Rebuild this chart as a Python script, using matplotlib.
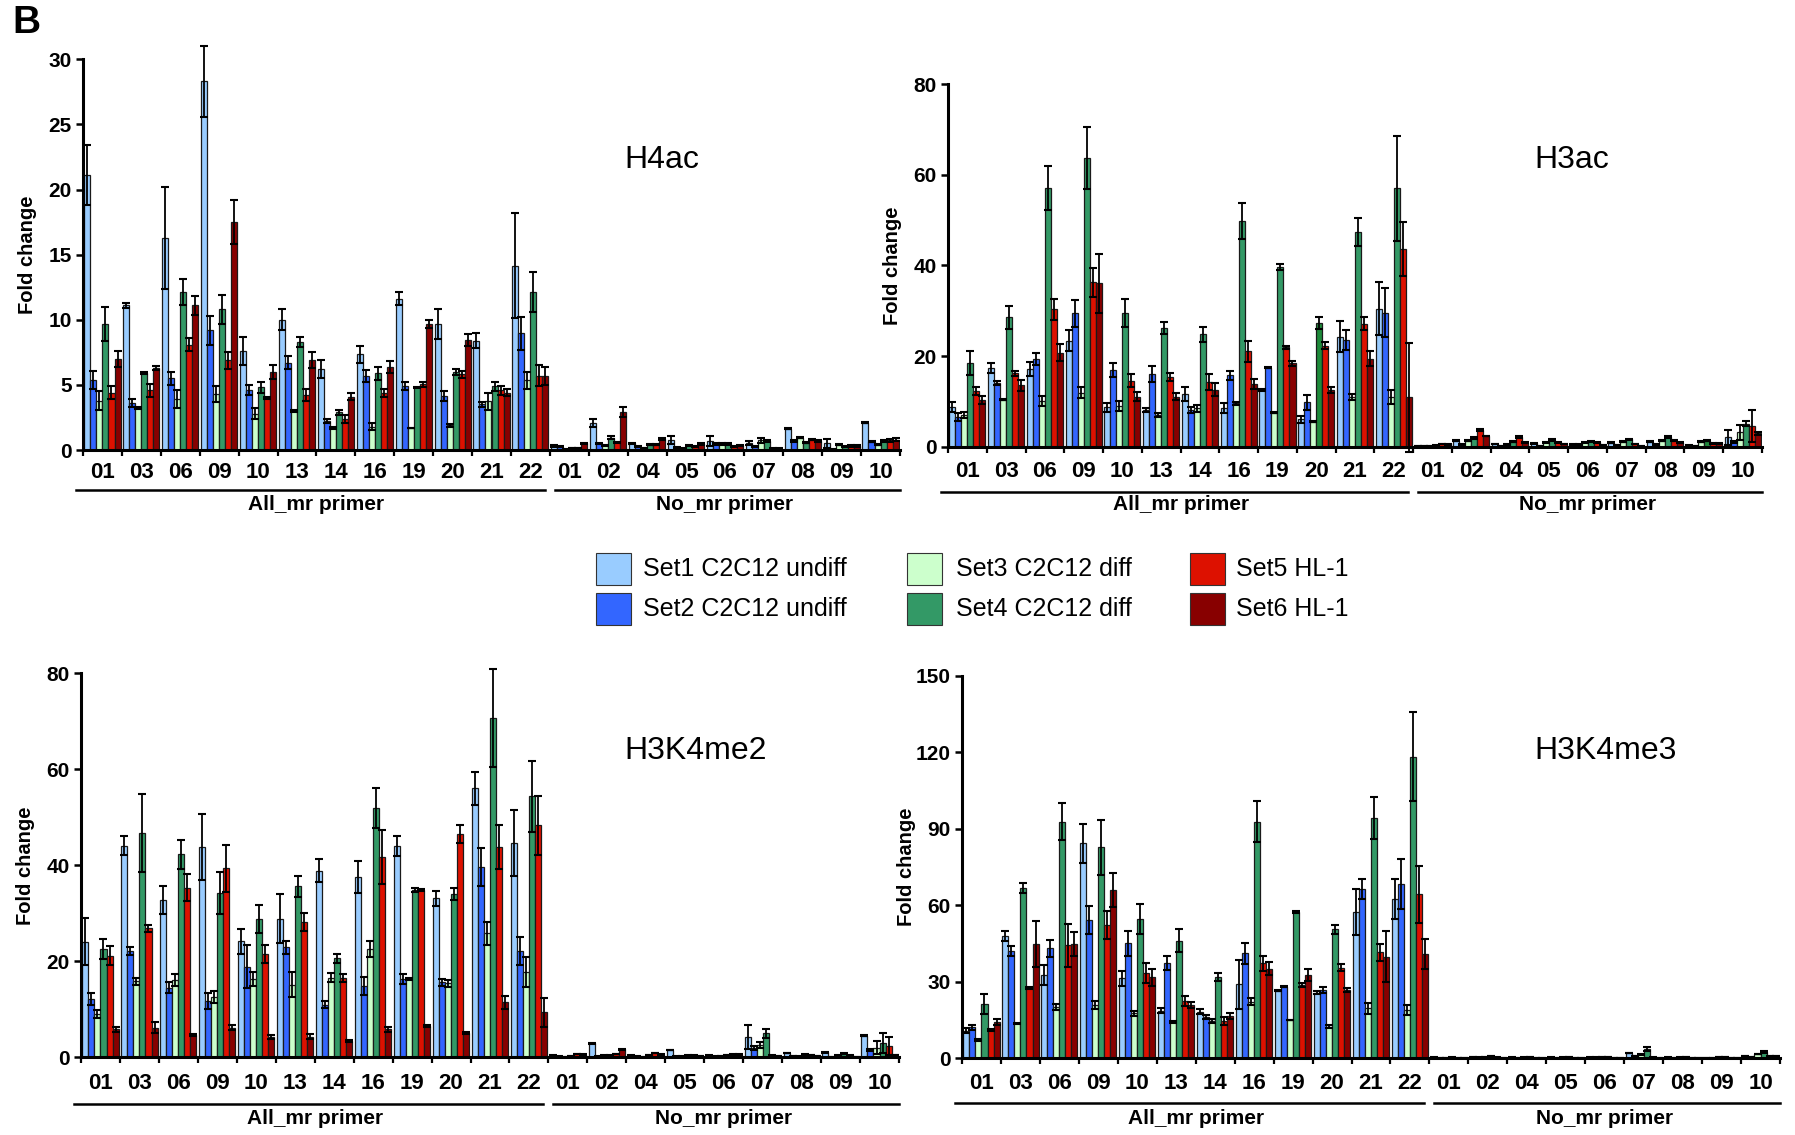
import matplotlib
matplotlib.use('Agg')
import matplotlib.pyplot as plt
from matplotlib.patches import Rectangle
from matplotlib.transforms import ScaledTranslation
import numpy as np

plt.rcParams['font.family'] = ['Liberation Sans', 'DejaVu Sans']

# ---------------- data ----------------
GROUPS = ['01', '03', '06', '09', '10', '13', '14', '16', '19', '20', '21', '22',
          '01', '02', '04', '05', '06', '07', '08', '09', '10']
N_ALL = 12
SERIES = ['Set1 C2C12 undiff', 'Set2 C2C12 undiff', 'Set3 C2C12 diff',
          'Set4 C2C12 diff', 'Set5 HL-1', 'Set6 HL-1']
COLORS = ['#99CCFF', '#3366FF', '#CCFFCC', '#339966', '#DD1100', '#880000']

SMALL = [0.05] * 9

# H4ac
H4AC_S1 = [21.1, 11.1, 16.3, 28.3, 7.6, 10.0, 6.2, 7.35, 11.6, 9.7, 8.4, 14.15, 0.3, 2.05, 0.5, 0.75, 0.7, 0.55, 1.65, 0.5, 2.1]
H4AC_E1 = [2.3, 0.2, 3.9, 2.7, 1.1, 0.8, 0.7, 0.65, 0.5, 1.15, 0.6, 4.05, 0.05, 0.3, 0.05, 0.3, 0.4, 0.15, 0.05, 0.35, 0.05]
H4AC_S2 = [5.4, 3.6, 5.5, 9.2, 4.6, 6.7, 2.2, 5.7, 4.9, 4.15, 3.5, 8.95, 0.25, 0.5, 0.25, 0.2, 0.45, 0.25, 0.7, 0.05, 0.65]
H4AC_E2 = [0.7, 0.3, 0.5, 1.1, 0.4, 0.5, 0.15, 0.45, 0.3, 0.35, 0.2, 1.25, 0.03, 0.05, 0.03, 0.03, 0.05, 0.03, 0.05, 0.03, 0.05]
H4AC_S3 = [3.8, 3.25, 3.9, 4.3, 2.8, 3.0, 1.7, 1.8, 1.7, 1.9, 3.75, 5.35, 0.05, 0.35, 0.15, 0.1, 0.45, 0.75, 0.95, 0.4, 0.4]
H4AC_E3 = [0.7, 0.08, 0.7, 0.6, 0.4, 0.1, 0.05, 0.3, 0.02, 0.1, 0.65, 0.65, 0.02, 0.05, 0.02, 0.02, 0.05, 0.2, 0.05, 0.05, 0.05]
H4AC_S4 = [9.7, 5.9, 12.1, 10.8, 4.8, 8.3, 2.9, 5.9, 4.8, 6.0, 4.9, 12.15, 0.15, 0.95, 0.4, 0.35, 0.45, 0.7, 0.55, 0.25, 0.7]
H4AC_E4 = [1.3, 0.1, 1.0, 1.1, 0.4, 0.4, 0.2, 0.5, 0.05, 0.25, 0.35, 1.55, 0.03, 0.1, 0.05, 0.05, 0.05, 0.1, 0.05, 0.05, 0.1]
H4AC_S5 = [4.4, 4.6, 8.1, 6.9, 4.0, 4.2, 2.4, 4.35, 5.05, 5.8, 4.6, 5.7, 0.15, 0.6, 0.4, 0.25, 0.25, 0.1, 0.8, 0.3, 0.75]
H4AC_E5 = [0.5, 0.5, 0.5, 0.65, 0.1, 0.45, 0.3, 0.3, 0.2, 0.3, 0.35, 0.8, 0.03, 0.05, 0.05, 0.03, 0.05, 0.03, 0.05, 0.05, 0.1]
H4AC_S6 = [7.0, 6.3, 11.1, 17.5, 6.0, 6.9, 4.1, 6.4, 9.7, 8.45, 4.4, 5.7, 0.5, 2.9, 0.85, 0.45, 0.35, 0.1, 0.7, 0.3, 0.8]
H4AC_E6 = [0.6, 0.15, 0.75, 1.7, 0.55, 0.6, 0.25, 0.45, 0.3, 0.45, 0.25, 0.7, 0.05, 0.4, 0.05, 0.05, 0.05, 0.03, 0.05, 0.05, 0.1]

# H3ac
H3AC_S1 = [8.8, 17.3, 17.2, 23.4, 8.7, 8.1, 11.6, 8.5, 12.5, 6.0, 24.3, 30.4, 0.1, 1.3, 0.6, 0.8, 0.45, 0.9, 1.1, 0.3, 2.05]
H3AC_E1 = [1.1, 1.1, 1.55, 2.3, 1.0, 0.5, 1.5, 1.1, 0.2, 0.8, 3.4, 5.85, 0.05, 0.1, 0.1, 0.1, 0.1, 0.1, 0.1, 0.1, 1.65]
H3AC_S2 = [6.6, 14.0, 19.3, 29.4, 16.9, 16.0, 8.1, 15.8, 17.4, 9.8, 23.5, 29.6, 0.1, 0.45, 0.15, 0.15, 0.45, 0.35, 0.5, 0.1, 1.1]
H3AC_E2 = [0.9, 0.5, 1.3, 2.9, 1.6, 1.8, 0.7, 1.0, 0.1, 1.6, 2.2, 5.5, 0.05, 0.1, 0.05, 0.05, 0.1, 0.05, 0.1, 0.05, 0.2]
H3AC_S3 = [7.0, 10.4, 10.1, 11.9, 9.0, 7.0, 8.5, 9.6, 7.5, 5.5, 11.0, 11.0, 0.2, 1.3, 0.5, 0.95, 0.95, 1.05, 1.3, 1.05, 3.15]
H3AC_E3 = [0.7, 0.2, 1.1, 1.2, 1.1, 0.5, 0.8, 0.3, 0.1, 0.1, 0.6, 1.6, 0.05, 0.1, 0.1, 0.1, 0.1, 0.1, 0.1, 0.1, 1.6]
H3AC_S4 = [18.4, 28.5, 57.1, 63.75, 29.4, 26.2, 24.8, 49.8, 39.7, 27.2, 47.4, 57.0, 0.25, 1.9, 1.1, 1.5, 1.2, 1.6, 2.05, 1.3, 5.1]
H3AC_E4 = [2.6, 2.6, 4.8, 6.85, 3.1, 1.4, 1.7, 4.0, 0.7, 1.3, 3.1, 11.6, 0.05, 0.2, 0.1, 0.2, 0.1, 0.2, 0.2, 0.1, 0.6]
H3AC_S5 = [12.35, 16.2, 30.3, 36.3, 14.6, 15.3, 14.3, 21.0, 21.9, 22.3, 27.1, 43.6, 0.6, 3.7, 2.05, 0.95, 0.95, 0.6, 1.3, 0.75, 4.55]
H3AC_E5 = [0.85, 0.5, 2.3, 3.2, 1.4, 0.9, 1.7, 2.4, 0.4, 0.7, 1.4, 6.0, 0.05, 0.2, 0.2, 0.1, 0.1, 0.05, 0.1, 0.05, 3.55]
H3AC_S6 = [10.3, 13.5, 20.7, 36.0, 11.0, 11.0, 12.6, 13.75, 18.4, 12.5, 19.4, 10.9, 0.5, 2.35, 0.9, 0.6, 0.35, 0.2, 0.9, 0.75, 2.95]
H3AC_E6 = [0.9, 1.2, 1.9, 6.4, 1.0, 0.8, 1.5, 1.1, 0.6, 0.7, 1.6, 12.0, 0.05, 0.1, 0.1, 0.05, 0.05, 0.05, 0.1, 0.05, 0.3]
H3AC_DARK_SET4 = [9, 19]   # bars drawn in a darker green in the original

# H3K4me2
ME2_S1 = [24.1, 44.1, 32.8, 43.75, 24.2, 28.9, 38.9, 37.6, 44.0, 33.1, 56.0, 44.6, 0.4, 2.9, 0.4, 1.55, 0.4, 4.2, 0.85, 1.05, 4.5]
ME2_E1 = [4.9, 2.0, 2.9, 6.85, 2.6, 5.1, 2.35, 3.3, 2.0, 1.55, 3.4, 6.9, 0.05, 0.1, 0.05, 0.05, 0.05, 2.55, 0.05, 0.1, 0.1]
ME2_S2 = [12.2, 22.15, 14.5, 11.7, 18.9, 22.9, 11.0, 14.9, 16.25, 15.6, 39.7, 22.15, 0.15, 0.15, 0.15, 0.15, 0.2, 1.9, 0.3, 0.05, 1.55]
ME2_E2 = [1.3, 0.75, 1.1, 1.6, 4.5, 1.3, 0.8, 1.9, 1.05, 0.7, 4.0, 2.95, 0.05, 0.05, 0.05, 0.05, 0.05, 0.4, 0.05, 0.05, 0.2]
ME2_S3 = [9.0, 15.8, 16.1, 12.6, 16.3, 15.1, 16.6, 22.6, 16.3, 15.4, 25.8, 17.7, 0.05, 0.35, 0.05, 0.15, 0.3, 2.55, 0.15, 0.4, 1.95]
ME2_E3 = [0.9, 0.8, 1.3, 1.2, 1.4, 2.6, 0.9, 1.7, 0.15, 0.7, 2.3, 3.1, 0.02, 0.05, 0.02, 0.05, 0.05, 0.65, 0.05, 0.05, 1.35]
ME2_S4 = [22.6, 46.7, 42.3, 34.2, 28.9, 35.6, 20.6, 51.9, 34.9, 34.0, 70.6, 54.4, 0.3, 0.35, 0.5, 0.4, 0.5, 5.0, 0.6, 0.75, 2.9]
ME2_E4 = [2.1, 8.2, 3.0, 4.3, 2.9, 2.2, 0.9, 4.1, 0.4, 1.2, 10.2, 7.4, 0.05, 0.05, 0.05, 0.05, 0.05, 1.0, 0.05, 0.1, 2.1]
ME2_S5 = [21.2, 26.9, 35.3, 39.4, 21.5, 28.2, 16.5, 41.8, 34.9, 46.5, 43.75, 48.3, 0.7, 0.7, 0.85, 0.4, 0.6, 0.4, 0.5, 0.4, 2.3]
ME2_E5 = [1.9, 0.7, 2.8, 4.9, 1.9, 1.9, 0.8, 5.6, 0.15, 1.8, 4.55, 6.2, 0.05, 0.05, 0.05, 0.05, 0.05, 0.05, 0.05, 0.05, 1.9]
ME2_S6 = [5.8, 6.2, 4.65, 6.2, 4.3, 4.3, 3.4, 5.8, 6.5, 5.1, 11.5, 9.4, 0.55, 1.65, 0.55, 0.3, 0.55, 0.3, 0.3, 0.1, 0.5]
ME2_E6 = [0.45, 1.2, 0.2, 0.5, 0.4, 0.5, 0.2, 0.6, 0.15, 0.2, 1.35, 3.0, 0.05, 0.05, 0.05, 0.05, 0.05, 0.05, 0.05, 0.05, 0.05]

# H3K4me3
ME3_S1 = [10.9, 48.0, 32.7, 84.4, 31.4, 18.6, 18.3, 29.0, 26.5, 25.8, 57.3, 62.4, 0.3, 0.4, 0.3, 0.3, 0.3, 2.0, 0.3, 0.2, 0.8]
ME3_E1 = [0.9, 2.0, 3.9, 7.7, 3.0, 1.0, 1.1, 9.6, 0.2, 0.7, 9.0, 7.8] + SMALL
ME3_S2 = [12.2, 42.1, 43.2, 54.3, 45.1, 37.5, 16.3, 41.2, 28.1, 26.8, 66.3, 68.3, 0.2, 0.3, 0.2, 0.2, 0.3, 1.0, 0.2, 0.1, 0.5]
ME3_E2 = [1.0, 2.1, 3.4, 5.5, 4.9, 2.8, 0.7, 4.2, 0.2, 1.3, 3.9, 9.8] + SMALL
ME3_S3 = [7.2, 13.7, 20.0, 20.9, 17.7, 14.4, 14.6, 22.2, 15.0, 12.4, 19.6, 19.0, 0.2, 0.4, 0.3, 0.3, 0.4, 1.5, 0.3, 0.5, 1.7]
ME3_E3 = [0.3, 0.3, 1.2, 1.7, 1.0, 0.4, 0.8, 1.3, 0.1, 0.7, 2.2, 1.9] + SMALL
ME3_S4 = [21.3, 66.7, 92.9, 82.8, 54.5, 46.2, 32.0, 92.9, 57.4, 50.6, 94.4, 118.4, 0.3, 0.8, 0.4, 0.4, 0.5, 3.5, 0.4, 0.6, 2.5]
ME3_E4 = [3.8, 2.0, 7.4, 10.7, 5.9, 4.4, 1.6, 8.2, 0.2, 1.7, 8.3, 17.6, 0.05, 0.05, 0.05, 0.05, 0.05, 0.8, 0.05, 0.05, 0.3]
ME3_S5 = [11.1, 27.5, 44.3, 52.3, 33.6, 22.6, 14.6, 37.3, 28.8, 35.6, 41.6, 64.3, 0.2, 0.3, 0.2, 0.2, 0.2, 0.3, 0.2, 0.2, 1.0]
ME3_E5 = [0.5, 0.3, 8.5, 5.6, 3.9, 2.0, 1.7, 3.0, 0.9, 1.3, 3.3, 11.3] + SMALL
ME3_S6 = [14.1, 44.9, 44.9, 66.0, 31.8, 20.9, 16.6, 35.2, 32.7, 26.8, 39.9, 40.8, 0.2, 0.2, 0.2, 0.2, 0.2, 0.2, 0.2, 0.2, 1.0]
ME3_E6 = [1.2, 9.0, 4.7, 6.7, 3.4, 1.3, 1.1, 2.7, 2.5, 0.9, 10.1, 5.9] + SMALL

PANELS = [
    dict(title='H4ac', vals=[H4AC_S1, H4AC_S2, H4AC_S3, H4AC_S4, H4AC_S5, H4AC_S6],
         errs=[H4AC_E1, H4AC_E2, H4AC_E3, H4AC_E4, H4AC_E5, H4AC_E6],
         ymax=30, ystep=5, box=(83, 59.3, 900, 450), title_xy=(624, 160), dark=[],
         lab_pad=8.5, line_off=40, text_off=55),
    dict(title='H3ac', vals=[H3AC_S1, H3AC_S2, H3AC_S3, H3AC_S4, H3AC_S5, H3AC_S6],
         errs=[H3AC_E1, H3AC_E2, H3AC_E3, H3AC_E4, H3AC_E5, H3AC_E6],
         ymax=80, ystep=20, box=(948, 84, 1762, 446.7), title_xy=(1534, 160), dark=H3AC_DARK_SET4,
         lab_pad=10.5, line_off=45, text_off=58),
    dict(title='H3K4me2', vals=[ME2_S1, ME2_S2, ME2_S3, ME2_S4, ME2_S5, ME2_S6],
         errs=[ME2_E1, ME2_E2, ME2_E3, ME2_E4, ME2_E5, ME2_E6],
         ymax=80, ystep=20, box=(81, 673.3, 899, 1057.3), title_xy=(624, 751), dark=[],
         lab_pad=11, line_off=47, text_off=61),
    dict(title='H3K4me3', vals=[ME3_S1, ME3_S2, ME3_S3, ME3_S4, ME3_S5, ME3_S6],
         errs=[ME3_E1, ME3_E2, ME3_E3, ME3_E4, ME3_E5, ME3_E6],
         ymax=150, ystep=30, box=(962, 676, 1780, 1058.3), title_xy=(1534, 751), dark=[],
         lab_pad=10.5, line_off=45, text_off=60),
]

# ---------------- figure ----------------
W, H = 1795, 1135
fig = plt.figure(figsize=(W / 100, H / 100), dpi=100)

def px_axes(x0, yt, x1, yb):
    return fig.add_axes([x0 / W, 1 - yb / H, (x1 - x0) / W, (yb - yt) / H])

BW = 0.155
x = np.arange(len(GROUPS))

for p in PANELS:
    ax = px_axes(*p['box'])
    for k in range(6):
        cols = [COLORS[k]] * len(x)
        if k == 3:
            for d in p['dark']:
                cols[d] = '#1E8A3A'
        xs = x + (k - 2.5) * BW
        ax.bar(xs, p['vals'][k], width=BW, color=cols, edgecolor='#1a1a1a',
               linewidth=0.9, zorder=2)
        eb = ax.errorbar(xs, p['vals'][k], yerr=p['errs'][k], fmt='none',
                         ecolor='black', elinewidth=1.3, capsize=3.2,
                         capthick=1.5, zorder=3)
        for c in eb.lines[1]:
            c.set_clip_on(False)
        for c in eb.lines[2]:
            c.set_clip_on(False)
    ax.set_xlim(-0.5, len(GROUPS) - 0.5)
    ax.set_ylim(0, p['ymax'])
    yt = np.arange(0, p['ymax'] + 0.1, p['ystep'])
    ax.set_yticks(yt)
    ax.set_yticklabels([str(int(v)) for v in yt], fontsize=15, fontweight='bold')
    ax.set_xticks(x)
    ax.set_xticklabels(GROUPS, fontsize=16, fontweight='bold')
    ax.set_xticks(np.arange(-0.5, len(GROUPS)), minor=True)
    ax.tick_params(axis='x', which='major', length=0, pad=p['lab_pad'])
    ax.tick_params(axis='x', which='minor', length=4, width=1.6, direction='out')
    ax.tick_params(axis='y', length=5, width=1.8, pad=3)
    for s in ['top', 'right']:
        ax.spines[s].set_visible(False)
    for s in ['left', 'bottom']:
        ax.spines[s].set_linewidth(2.2)
    ax.set_ylabel('Fold change', fontsize=14.5, fontweight='bold')
    ax_w = p['box'][2] - p['box'][0]
    ax.yaxis.set_label_coords(-46 / ax_w, 0.5)

    # bracket lines + primer labels
    def below(off_px):
        return ax.get_xaxis_transform() + ScaledTranslation(0, -off_px / 100, fig.dpi_scale_trans)
    ax.plot([-0.68, N_ALL - 0.5 - 0.13], [0, 0], color='black', lw=1.8,
            transform=below(p['line_off']), clip_on=False)
    ax.plot([N_ALL - 0.5 + 0.13, len(GROUPS) - 0.5], [0, 0], color='black', lw=1.8,
            transform=below(p['line_off']), clip_on=False)
    ax.text((N_ALL - 1) / 2, 0, 'All_mr primer', transform=below(p['text_off']), ha='center',
            va='center', fontsize=15, fontweight='bold')
    ax.text((N_ALL + len(GROUPS) - 1) / 2, 0, 'No_mr primer', transform=below(p['text_off']),
            ha='center', va='center', fontsize=15, fontweight='bold')

    tx, ty = p['title_xy']
    fig.text(tx / W, 1 - ty / H, p['title'], fontsize=23, ha='left', va='center')

# panel letter
fig.text(12 / W, 1 - 23 / H, 'B', fontsize=28, fontweight='bold', ha='left', va='center')

# legend
leg_cols = [(596, 643), (907, 956), (1190, 1236)]
leg_rows = [569, 609]
for k, name in enumerate(SERIES):
    c = k // 2
    r = k % 2
    px, tx = leg_cols[c]
    cy = leg_rows[r]
    fig.add_artist(Rectangle((px / W, 1 - (cy + 16) / H), 35 / W, 32 / H,
                             facecolor=COLORS[k], edgecolor='#333333', lw=0.8,
                             transform=fig.transFigure))
    fig.text(tx / W, 1 - cy / H, name, fontsize=18, ha='left', va='center')

fig.savefig('out.png', dpi=100)
